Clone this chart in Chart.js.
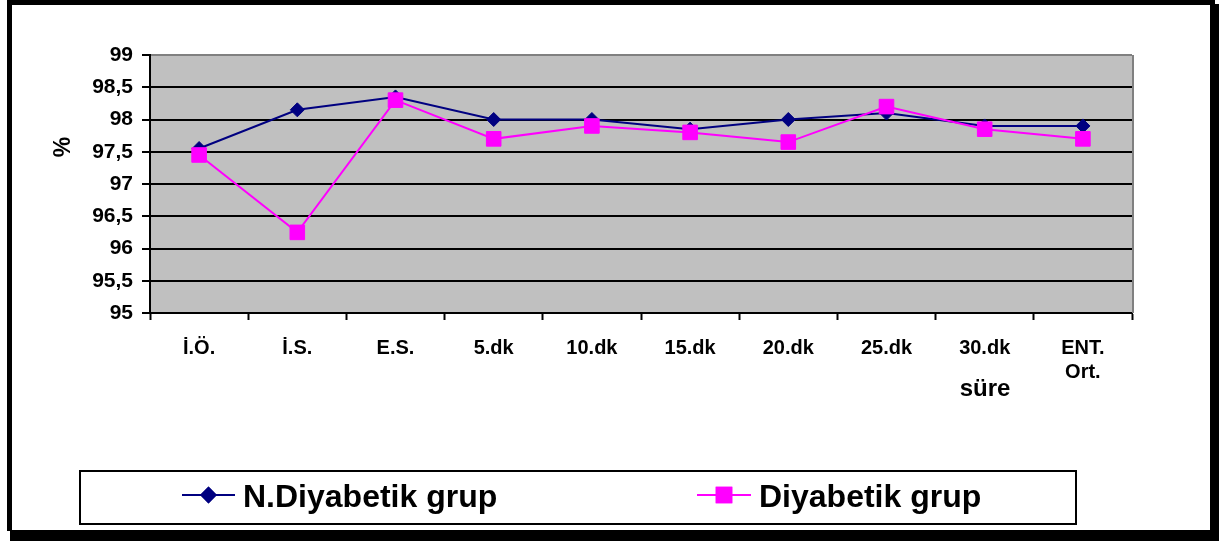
<!DOCTYPE html>
<html>
<head>
<meta charset="utf-8">
<script src="https://cdn.jsdelivr.net/npm/chart.js@4/dist/chart.umd.min.js"></script>
<style>
  html, body { margin: 0; padding: 0; background: #fff; }
  #wrap { width: 1229px; height: 541px; position: relative; }
</style>
</head>
<body>
<div id="wrap"><canvas id="c" width="1229" height="541"></canvas></div>
<script>
// Time points of the measurement
const categories = ['İ.Ö.', 'İ.S.', 'E.S.', '5.dk', '10.dk', '15.dk', '20.dk', '25.dk', '30.dk', ['ENT.', 'Ort.']];

// Mean % values per group
const nonDiabeticValues = [97.55, 98.15, 98.35, 98.0, 98.0, 97.85, 98.0, 98.1, 97.9, 97.9];
const diabeticValues    = [97.45, 96.25, 98.3, 97.7, 97.9, 97.8, 97.65, 98.2, 97.85, 97.7];

// Series names
const seriesNames = ['N.Diyabetik grup', 'Diyabetik grup'];

// Y axis tick labels (Turkish decimal comma)
const yTickLabels = ['95', '95,5', '96', '96,5', '97', '97,5', '98', '98,5', '99'];

const axisTitleY = '%';
const axisTitleX = 'süre';

const FONT = '"Liberation Sans", Arial, sans-serif';
const NAVY = '#000080';
const MAGENTA = '#FF00FF';

// Plot background plus the gray right-hand plot border
const plotFrame = {
  id: 'plotFrame',
  beforeDraw(chart) {
    const { ctx, chartArea: a } = chart;
    ctx.save();
    ctx.fillStyle = '#fff';
    ctx.fillRect(0, 0, chart.width, chart.height);
    ctx.fillStyle = '#C0C0C0';
    ctx.fillRect(a.left, a.top, a.right - a.left, a.bottom - a.top);
    ctx.restore();
  },
  beforeDatasetsDraw(chart) {
    const { ctx, chartArea: a } = chart;
    ctx.save();
    ctx.strokeStyle = '#808080';
    ctx.lineWidth = 2;
    ctx.beginPath();
    ctx.moveTo(a.right + 1, a.top);
    ctx.lineTo(a.right + 1, a.bottom);
    ctx.stroke();
    ctx.restore();
  }
};

// Axis titles, boxed legend with line+marker swatches, outer frame
const decorations = {
  id: 'decorations',
  afterDraw(chart) {
    const { ctx } = chart;
    ctx.save();
    ctx.fillStyle = '#000';

    // "%" title, rotated
    ctx.font = 'bold 23px ' + FONT;
    ctx.textAlign = 'center';
    ctx.textBaseline = 'middle';
    ctx.save();
    ctx.translate(64, 147);
    ctx.rotate(-Math.PI / 2);
    ctx.fillText(axisTitleY, 0, 0);
    ctx.restore();

    // "süre" title
    ctx.font = 'bold 24px ' + FONT;
    ctx.fillText(axisTitleX, 985, 389);

    // Legend box
    ctx.strokeStyle = '#000';
    ctx.lineWidth = 2;
    ctx.strokeRect(80, 471, 996, 53);

    const items = [
      { ds: chart.data.datasets[0], x0: 182, x1: 235, tx: 243 },
      { ds: chart.data.datasets[1], x0: 697, x1: 751, tx: 759 }
    ];
    const ly = 495;
    items.forEach(it => {
      const ds = it.ds;
      ctx.strokeStyle = ds.borderColor;
      ctx.lineWidth = 2;
      ctx.beginPath();
      ctx.moveTo(it.x0, ly);
      ctx.lineTo(it.x1, ly);
      ctx.stroke();
      Chart.helpers.drawPoint(ctx, {
        pointStyle: ds.pointStyle,
        radius: ds.pointRadius,
        borderWidth: 1,
        rotation: 0
      }, (it.x0 + it.x1) / 2, ly);
      ctx.fillStyle = ds.pointBackgroundColor;
      ctx.strokeStyle = ds.pointBorderColor;
      ctx.fill();
      ctx.stroke();
      ctx.fillStyle = '#000';
      ctx.font = 'bold 32px ' + FONT;
      ctx.textAlign = 'left';
      ctx.textBaseline = 'alphabetic';
      ctx.fillText(ds.label, it.tx, 507);
    });

    // Outer black frame with drop shadow
    ctx.fillStyle = '#000';
    ctx.fillRect(7, 0, 1208, 5);
    ctx.fillRect(7, 0, 5, 531);
    ctx.fillRect(1210, 4, 9, 537);
    ctx.fillRect(10, 530, 1209, 11);
    ctx.restore();
  }
};

new Chart(document.getElementById('c'), {
  type: 'line',
  data: {
    labels: categories,
    datasets: [
      {
        label: seriesNames[0],
        data: nonDiabeticValues,
        borderColor: NAVY,
        backgroundColor: NAVY,
        pointBackgroundColor: NAVY,
        pointBorderColor: NAVY,
        pointStyle: 'rectRot',
        pointRadius: 7,
        pointBorderWidth: 1,
        borderWidth: 2,
        tension: 0,
        order: 2
      },
      {
        label: seriesNames[1],
        data: diabeticValues,
        borderColor: MAGENTA,
        backgroundColor: MAGENTA,
        pointBackgroundColor: MAGENTA,
        pointBorderColor: MAGENTA,
        pointStyle: 'rect',
        pointRadius: 10.3,
        pointBorderWidth: 1,
        borderWidth: 2,
        tension: 0,
        order: 1
      }
    ]
  },
  options: {
    responsive: false,
    animation: false,
    devicePixelRatio: 1,
    layout: { padding: { top: 55, right: 97, left: 0, bottom: 0 } },
    plugins: {
      legend: { display: false },
      tooltip: { enabled: false },
      title: { display: false }
    },
    scales: {
      x: {
        type: 'category',
        offset: true,
        grid: {
          offset: true,
          drawOnChartArea: false,
          drawTicks: true,
          tickLength: 7,
          tickColor: '#000',
          tickWidth: 2
        },
        border: { display: true, color: '#000', width: 2 },
        ticks: {
          color: '#000',
          font: { family: FONT, size: 20, weight: 'bold', lineHeight: 1.2 },
          padding: 16,
          autoSkip: false,
          maxRotation: 0,
          minRotation: 0
        },
        afterFit(scale) { scale.height = 228; }
      },
      y: {
        min: 95,
        max: 99,
        ticks: {
          stepSize: 0.5,
          color: '#000',
          padding: 9,
          font: { family: FONT, size: 21, weight: 'bold' },
          callback: (v, i) => yTickLabels[i]
        },
        grid: {
          color: c => (c.tick && c.tick.value === 99) ? '#808080' : '#000',
          lineWidth: 2,
          tickLength: 8,
          tickColor: '#000',
          tickWidth: 2
        },
        border: { display: true, color: '#000', width: 2 },
        afterFit(scale) { scale.width = 150; }
      }
    }
  },
  plugins: [plotFrame, decorations]
});
</script>
</body>
</html>
